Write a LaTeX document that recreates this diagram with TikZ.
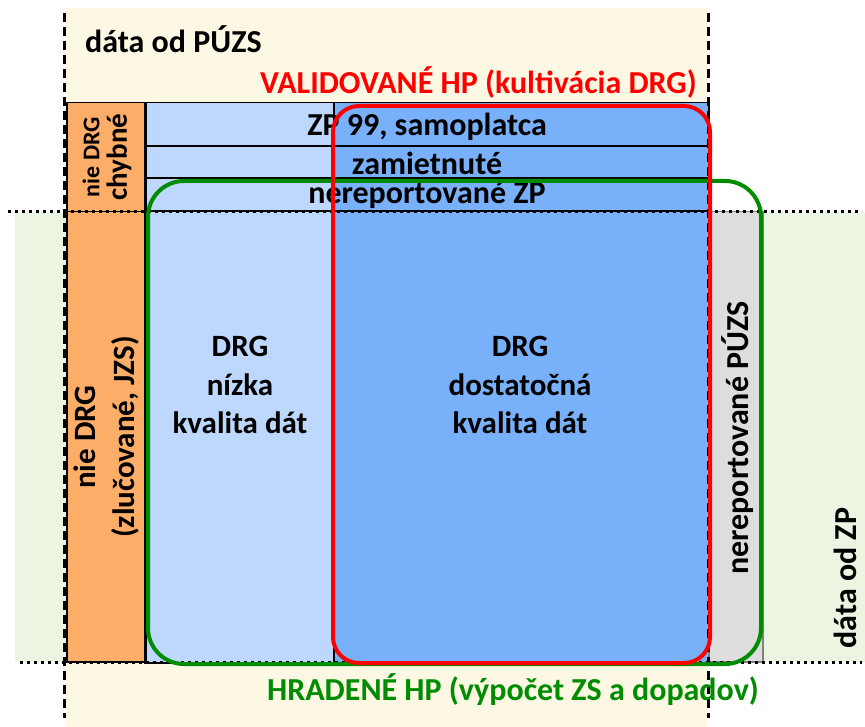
\documentclass[tikz,border=0pt]{standalone}
\usepackage{fontspec}
\setmainfont{Carlito}
\begin{document}
\begin{tikzpicture}[x=1pt,y=-1pt,
  every node/.style={font=\bfseries},
  cell/.style={draw=black, line width=1.5pt, anchor=north west, inner sep=0pt},
  lbl/.style={font=\fontsize{32}{38}\selectfont\bfseries, inner sep=0pt, align=center},
  dotline/.style={line width=3pt, dash pattern=on 3pt off 4pt},
  dashline/.style={line width=3pt, dash pattern=on 9pt off 5pt}]
\useasboundingbox (0,0) rectangle (865,727);
\definecolor{beige}{RGB}{253,248,228}
\definecolor{lgreen}{RGB}{235,245,225}
\definecolor{orng}{RGB}{252,174,104}
\definecolor{lblue}{RGB}{189,216,252}
\definecolor{dblue}{RGB}{121,176,250}
\definecolor{lgray}{RGB}{221,221,221}
\definecolor{myred}{RGB}{255,0,0}
\definecolor{mygreen}{RGB}{0,140,0}
% backgrounds
\fill[beige] (66,8) rectangle (707,727);
\fill[lgreen] (15,213) rectangle (865,662);
% cells
\node[cell, fill=orng, minimum width=79pt, minimum height=109pt] (o1) at (66,102) {};
\node[cell, fill=orng, minimum width=79pt, minimum height=450pt] (o2) at (66,211) {};
\node[cell, fill=lblue, minimum width=188pt, minimum height=560pt] (lb) at (145,102) {};
\node[cell, fill=dblue, minimum width=375pt, minimum height=560pt] (db) at (333,102) {};
\node[cell, fill=lgray, draw=gray, minimum width=54pt, minimum height=450pt] (gr) at (708,211) {};
\coordinate (r1l) at (145,146); \coordinate (r1r) at (708,146);
\coordinate (r2l) at (145,178); \coordinate (r2r) at (708,178);
\coordinate (r3l) at (145,211); \coordinate (r3r) at (708,211);
\draw[line width=1.5pt] (r1l) -- (r1r);
\draw[line width=1.5pt] (r2l) -- (r2r);
\draw[line width=1.5pt] (r3l) -- (r3r);
\draw[line width=3pt] (lb.north west) -- (lb.south west);
% dotted / dashed separators
\coordinate (h1a) at (8,212); \coordinate (h1b) at (862,212);
\coordinate (h2a) at (20,662); \coordinate (h2b) at (862,662);
\coordinate (v1a) at (64,13); \coordinate (v1b) at (64,718);
\coordinate (v2a) at (708,13); \coordinate (v2b) at (708,718);
\draw[dotline] (h1a) -- (h1b);
\draw[dotline] (h2a) -- (h2b);
\draw[dashline] (v1a) -- (v1b);
\draw[dashline] (v2a) -- (v2b);
% texts
\node[lbl, anchor=west] (t1) at (85,39) {dáta od PÚZS};
\node[lbl, anchor=east, text=myred] (t2) at (697,82) {VALIDOVANÉ HP (kultivácia DRG)};
\node[lbl] (t3) at (427,127) {ZP 99, samoplatca};
\node[lbl] (t4) at (427,163) {zamietnuté};
\node[lbl] (t5) at (427,195) {nereportované ZP};
\node[lbl, font=\fontsize{24}{28}\selectfont\bfseries, rotate=90] (t6) at (91,157) {nie DRG};
\node[lbl, font=\fontsize{29}{34}\selectfont\bfseries, rotate=90] (t7) at (119,157) {chybné};
\node[lbl, rotate=90, font=\fontsize{31}{39}\selectfont\bfseries] (t8) at (106,437) {nie DRG\\(zlučované, JZS)};
\node[lbl, font=\fontsize{31}{38.5}\selectfont\bfseries] (t9) at (240,385) {DRG\\nízka\\kvalita dát};
\node[lbl, font=\fontsize{31}{38.5}\selectfont\bfseries] (t10) at (520,385) {DRG\\dostatočná\\kvalita dát};
\node[lbl, rotate=90] (t11) at (738,438) {nereportované PÚZS};
\node[lbl, rotate=90] (t12) at (845,578) {dáta od ZP};
\node[lbl, anchor=east, text=mygreen] (t13) at (759,690) {HRADENÉ HP (výpočet ZS a dopadov)};
% rounded frames
\draw[mygreen, line width=4pt, rounded corners=36pt] (148,181) rectangle (761,664);
\draw[myred, line width=4pt, rounded corners=26pt] (333,106) rectangle (710,663);
\end{tikzpicture}
\end{document}
